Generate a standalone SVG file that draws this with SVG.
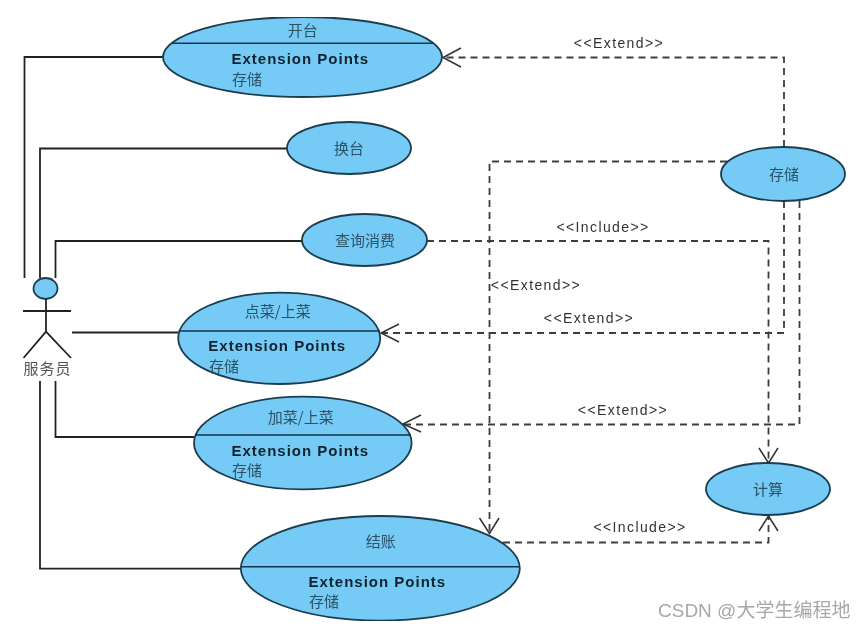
<svg xmlns="http://www.w3.org/2000/svg" width="865" height="630" viewBox="0 0 865 630">
<style>
.uc{fill:#75cbf5;stroke:#1c3d4f;stroke-width:1.8}
.div{stroke:#123347;stroke-width:1.5;fill:none}
.solid{fill:none;stroke:#222;stroke-width:1.8}
.dash{fill:none;stroke:#3c3c3c;stroke-width:1.8;stroke-dasharray:7 5}
.head{fill:none;stroke:#333;stroke-width:1.5}
.cjk{font-family:"Noto Sans CJK SC",sans-serif;font-size:15px;fill:#2c5266;text-anchor:middle}
.sub{font-family:"Noto Sans CJK SC",sans-serif;font-size:15px;fill:#2c5266}
.ep{font-family:"Liberation Sans",Arial,sans-serif;font-size:15px;font-weight:bold;fill:#10222e;letter-spacing:1px}
.lab{font-family:"Liberation Sans",Arial,sans-serif;font-size:14px;fill:#333;text-anchor:middle;letter-spacing:1.4px}
.mark{font-family:"Liberation Sans","Noto Sans CJK SC",sans-serif;font-size:19px;fill:#a8a8a8}
</style>
<defs>
<filter id="soft" x="0" y="0" width="100%" height="100%"><feGaussianBlur stdDeviation="0.4"/></filter>
</defs>
<rect width="865" height="630" fill="#fff"/>
<g filter="url(#soft)">
<g id="connectors">
<path class="solid" d="M24.500 278V57H163"/>
<path class="solid" d="M40 278V148.500H287"/>
<path class="solid" d="M55.500 278V241H302"/>
<path class="solid" d="M72 332.500H178"/>
<path class="solid" d="M55.500 381V437H194"/>
<path class="solid" d="M40 381V568.700H241"/>
<path class="dash" d="M784 147V57.500H444"/>
<path class="dash" d="M727 161.500H489.500V533"/>
<path class="dash" d="M427 241H768.500V462"/>
<path class="dash" d="M784 201V333H381"/>
<path class="dash" d="M799.500 201V424.500H404"/>
<path class="dash" d="M503 542.500H768.500V516"/>
<path class="head" d="M461 48L443 57.500L461 67"/>
<path class="head" d="M399 324L381 333L399 342"/>
<path class="head" d="M421 415L403 424L421 432"/>
<path class="head" d="M479.500 518L489.500 533.500L499 518"/>
<path class="head" d="M759 448L768.500 463L778 448"/>
<path class="head" d="M759 531L768.500 516L778 531"/>
</g>
<g id="actor">
<ellipse class="uc" cx="45.500" cy="288.500" rx="12" ry="10.500"/>
<path class="solid" d="M46 299V331.700M23 311H71M23.500 358L46 331.700L71 358"/>
<text class="cjk" x="47.500" y="374" style="fill:#555;letter-spacing:1px">服务员</text>
</g>
<g id="uc-kaitai">
<ellipse class="uc" cx="302.500" cy="57" rx="139.500" ry="40"/>
<path class="div" d="M172 43.300H433"/>
<text class="cjk" x="302.700" y="36">开台</text>
<text class="ep" x="231.500" y="64.300">Extension Points</text>
<text class="sub" x="232" y="84.500">存储</text>
</g>
<g id="uc-huantai">
<ellipse class="uc" cx="349" cy="148" rx="62" ry="26"/>
<text class="cjk" x="349" y="154">换台</text>
</g>
<g id="uc-chaxun">
<ellipse class="uc" cx="364.500" cy="240" rx="62.500" ry="26"/>
<text class="cjk" x="365" y="246">查询消费</text>
</g>
<g id="uc-diancai">
<ellipse class="uc" cx="279.200" cy="338.300" rx="101" ry="45.700"/>
<path class="div" d="M178.500 331H380"/>
<text class="cjk" x="277.700" y="317">点菜/上菜</text>
<text class="ep" x="208.300" y="351">Extension Points</text>
<text class="sub" x="209" y="372">存储</text>
</g>
<g id="uc-jiacai">
<ellipse class="uc" cx="302.800" cy="443" rx="108.800" ry="46.300"/>
<path class="div" d="M195 435H411"/>
<text class="cjk" x="300.700" y="422.500">加菜/上菜</text>
<text class="ep" x="231.500" y="456">Extension Points</text>
<text class="sub" x="232" y="476">存储</text>
</g>
<g id="uc-jiezhang">
<ellipse class="uc" cx="380.300" cy="568.300" rx="139.500" ry="52.300"/>
<path class="div" d="M241 566.700H519.500"/>
<text class="cjk" x="380.700" y="547">结账</text>
<text class="ep" x="308.500" y="587">Extension Points</text>
<text class="sub" x="309" y="607">存储</text>
</g>
<g id="uc-cunchu">
<ellipse class="uc" cx="783" cy="174" rx="62" ry="27"/>
<text class="cjk" x="784" y="180">存储</text>
</g>
<g id="uc-jisuan">
<ellipse class="uc" cx="768" cy="489" rx="62" ry="26"/>
<text class="cjk" x="768" y="495">计算</text>
</g>
<g id="labels">
<text class="lab" x="619" y="48">&lt;&lt;Extend&gt;&gt;</text>
<text class="lab" x="603" y="232">&lt;&lt;Include&gt;&gt;</text>
<text class="lab" x="536" y="290">&lt;&lt;Extend&gt;&gt;</text>
<text class="lab" x="589" y="323">&lt;&lt;Extend&gt;&gt;</text>
<text class="lab" x="623" y="415">&lt;&lt;Extend&gt;&gt;</text>
<text class="lab" x="640" y="532">&lt;&lt;Include&gt;&gt;</text>
</g>
<text class="mark" x="658" y="617">CSDN @大学生编程地</text>
</g>
</svg>
